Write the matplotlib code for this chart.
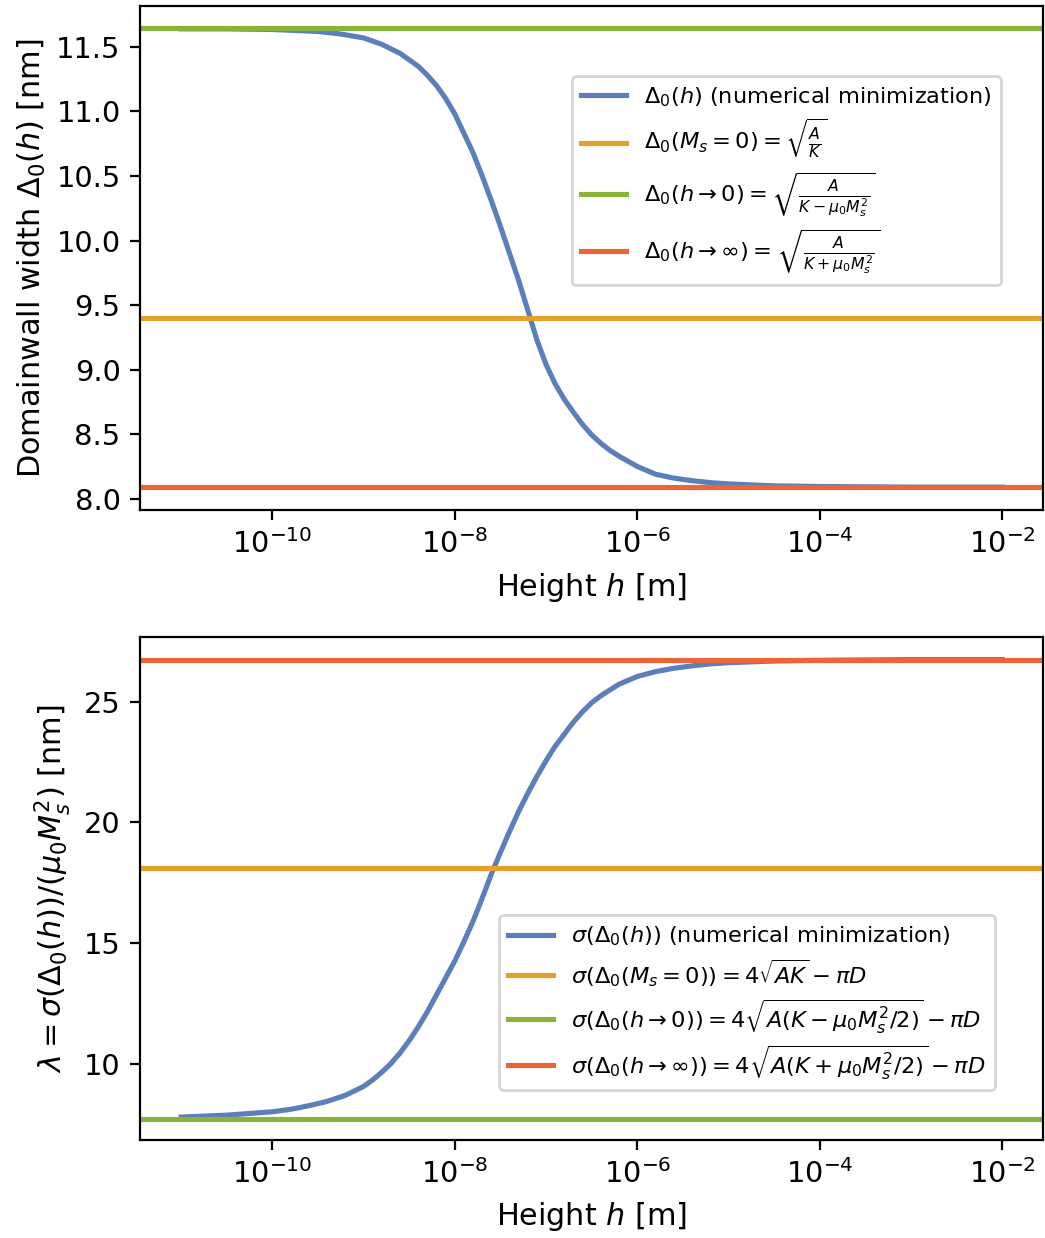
import numpy as np
import matplotlib
matplotlib.use("Agg")
import matplotlib.pyplot as plt
from matplotlib.ticker import MultipleLocator

# log10 of height h [m] where the domain wall width was sampled
log_h_delta = [-11.0, -10.5, -10.0, -9.5, -9.25, -9.0, -8.8, -8.6, -8.4, -8.3,
               -8.2, -8.1, -8.0, -7.9, -7.8, -7.7, -7.6, -7.5, -7.4, -7.3,
               -7.2, -7.1, -7.0, -6.9, -6.8, -6.7, -6.6, -6.5, -6.4, -6.3,
               -6.2, -6.0, -5.8, -5.6, -5.4, -5.2, -5.0, -4.5, -4.0, -3.0, -2.0]
# domain wall width Delta_0(h) [nm] from the numerical minimization
delta_num = [11.640, 11.640, 11.635, 11.620, 11.600, 11.570, 11.520, 11.450, 11.350, 11.280,
             11.200, 11.100, 10.980, 10.830, 10.680, 10.500, 10.310, 10.110, 9.900, 9.690,
             9.460, 9.230, 9.040, 8.890, 8.770, 8.670, 8.575, 8.495, 8.430, 8.375,
             8.330, 8.250, 8.190, 8.160, 8.140, 8.125, 8.115, 8.100, 8.095, 8.090, 8.090]

# log10 of height h [m] where the wall energy was sampled
log_h_sigma = [-11.0, -10.5, -10.0, -9.8, -9.6, -9.4, -9.2, -9.0, -8.9, -8.8,
               -8.7, -8.6, -8.5, -8.4, -8.3, -8.2, -8.1, -8.0, -7.9, -7.8,
               -7.7, -7.6, -7.5, -7.4, -7.3, -7.2, -7.1, -7.0, -6.9, -6.8,
               -6.7, -6.6, -6.5, -6.4, -6.3, -6.2, -6.0, -5.8, -5.6, -5.4,
               -5.2, -5.0, -4.5, -4.0, -3.0, -2.0]
# lambda = sigma(Delta_0(h)) / (mu0 Ms^2) [nm]
sigma_num = [7.78, 7.86, 8.00, 8.10, 8.25, 8.43, 8.68, 9.05, 9.32, 9.64,
             10.00, 10.44, 10.95, 11.52, 12.15, 12.85, 13.55, 14.25, 15.05, 15.90,
             16.85, 17.85, 18.75, 19.62, 20.45, 21.20, 21.90, 22.55, 23.15, 23.65,
             24.15, 24.58, 24.95, 25.24, 25.48, 25.72, 26.04, 26.24, 26.38, 26.48,
             26.56, 26.61, 26.68, 26.71, 26.74, 26.74]

# analytic limits: M_s = 0, h -> 0, h -> infinity
delta_limits = [9.397, 11.645, 8.090]
sigma_limits = [18.10, 7.72, 26.74]

colors = ["#5B7FBB", "#E4A02B", "#8BB23B", "#EA6639"]

delta_labels = [
    r"$\Delta_0(h)$ (numerical minimization)",
    r"$\Delta_0(M_s = 0) = \sqrt{\frac{A}{K}}$",
    r"$\Delta_0(h \rightarrow 0) = \sqrt{\frac{A}{K - \mu_0 M_s^2}}$",
    r"$\Delta_0(h \rightarrow \infty) = \sqrt{\frac{A}{K + \mu_0 M_s^2}}$",
]
sigma_labels = [
    r"$\sigma(\Delta_0(h))$ (numerical minimization)",
    r"$\sigma(\Delta_0(M_s = 0)) = 4\sqrt{AK} - \pi D$",
    r"$\sigma(\Delta_0(h \rightarrow 0)) = 4\sqrt{A(K - \mu_0 M_s^2/2)} - \pi D$",
    r"$\sigma(\Delta_0(h \rightarrow \infty)) = 4\sqrt{A(K + \mu_0 M_s^2/2)} - \pi D$",
]

plt.rcParams["xtick.labelsize"] = 10.4
plt.rcParams["ytick.labelsize"] = 10.4
plt.rcParams["axes.labelsize"] = 10.9
plt.rcParams["legend.fontsize"] = 8.1
plt.rcParams["lines.linewidth"] = 1.85

fig = plt.figure(figsize=(5.225, 6.19), dpi=200)
ax1 = fig.add_axes([0.134, 0.588, 0.8644, 0.4072])
ax2 = fig.add_axes([0.134, 0.0792, 0.8644, 0.4065])

# top: domain wall width
ax1.plot(10.0 ** np.array(log_h_delta), delta_num, color=colors[0], label=delta_labels[0])
for val, col, lab in zip(delta_limits, colors[1:], delta_labels[1:]):
    ax1.axhline(val, color=col, label=lab)
ax1.set_xscale("log")
ax1.yaxis.set_major_locator(MultipleLocator(0.5))
ax1.set_xlabel(r"Height $h$ [m]")
ax1.set_ylabel(r"Domainwall width $\Delta_0(h)$ [nm]", labelpad=3)
ax1.legend(loc="upper right", bbox_to_anchor=(0.9528, 0.861), borderaxespad=0,
           labelspacing=0.38)

# bottom: wall energy
ax2.plot(10.0 ** np.array(log_h_sigma), sigma_num, color=colors[0], label=sigma_labels[0])
for val, col, lab in zip(sigma_limits, colors[1:], sigma_labels[1:]):
    ax2.axhline(val, color=col, label=lab)
ax2.set_xscale("log")
ax2.yaxis.set_major_locator(MultipleLocator(5))
ax2.set_xlabel(r"Height $h$ [m]")
ax2.set_ylabel(r"$\lambda = \sigma(\Delta_0(h))/(\mu_0 M_s^2)$ [nm]")
ax2.legend(loc="lower right", bbox_to_anchor=(0.9465, 0.0993), borderaxespad=0,
           labelspacing=0.38)

fig.savefig("out.png", dpi=200)
